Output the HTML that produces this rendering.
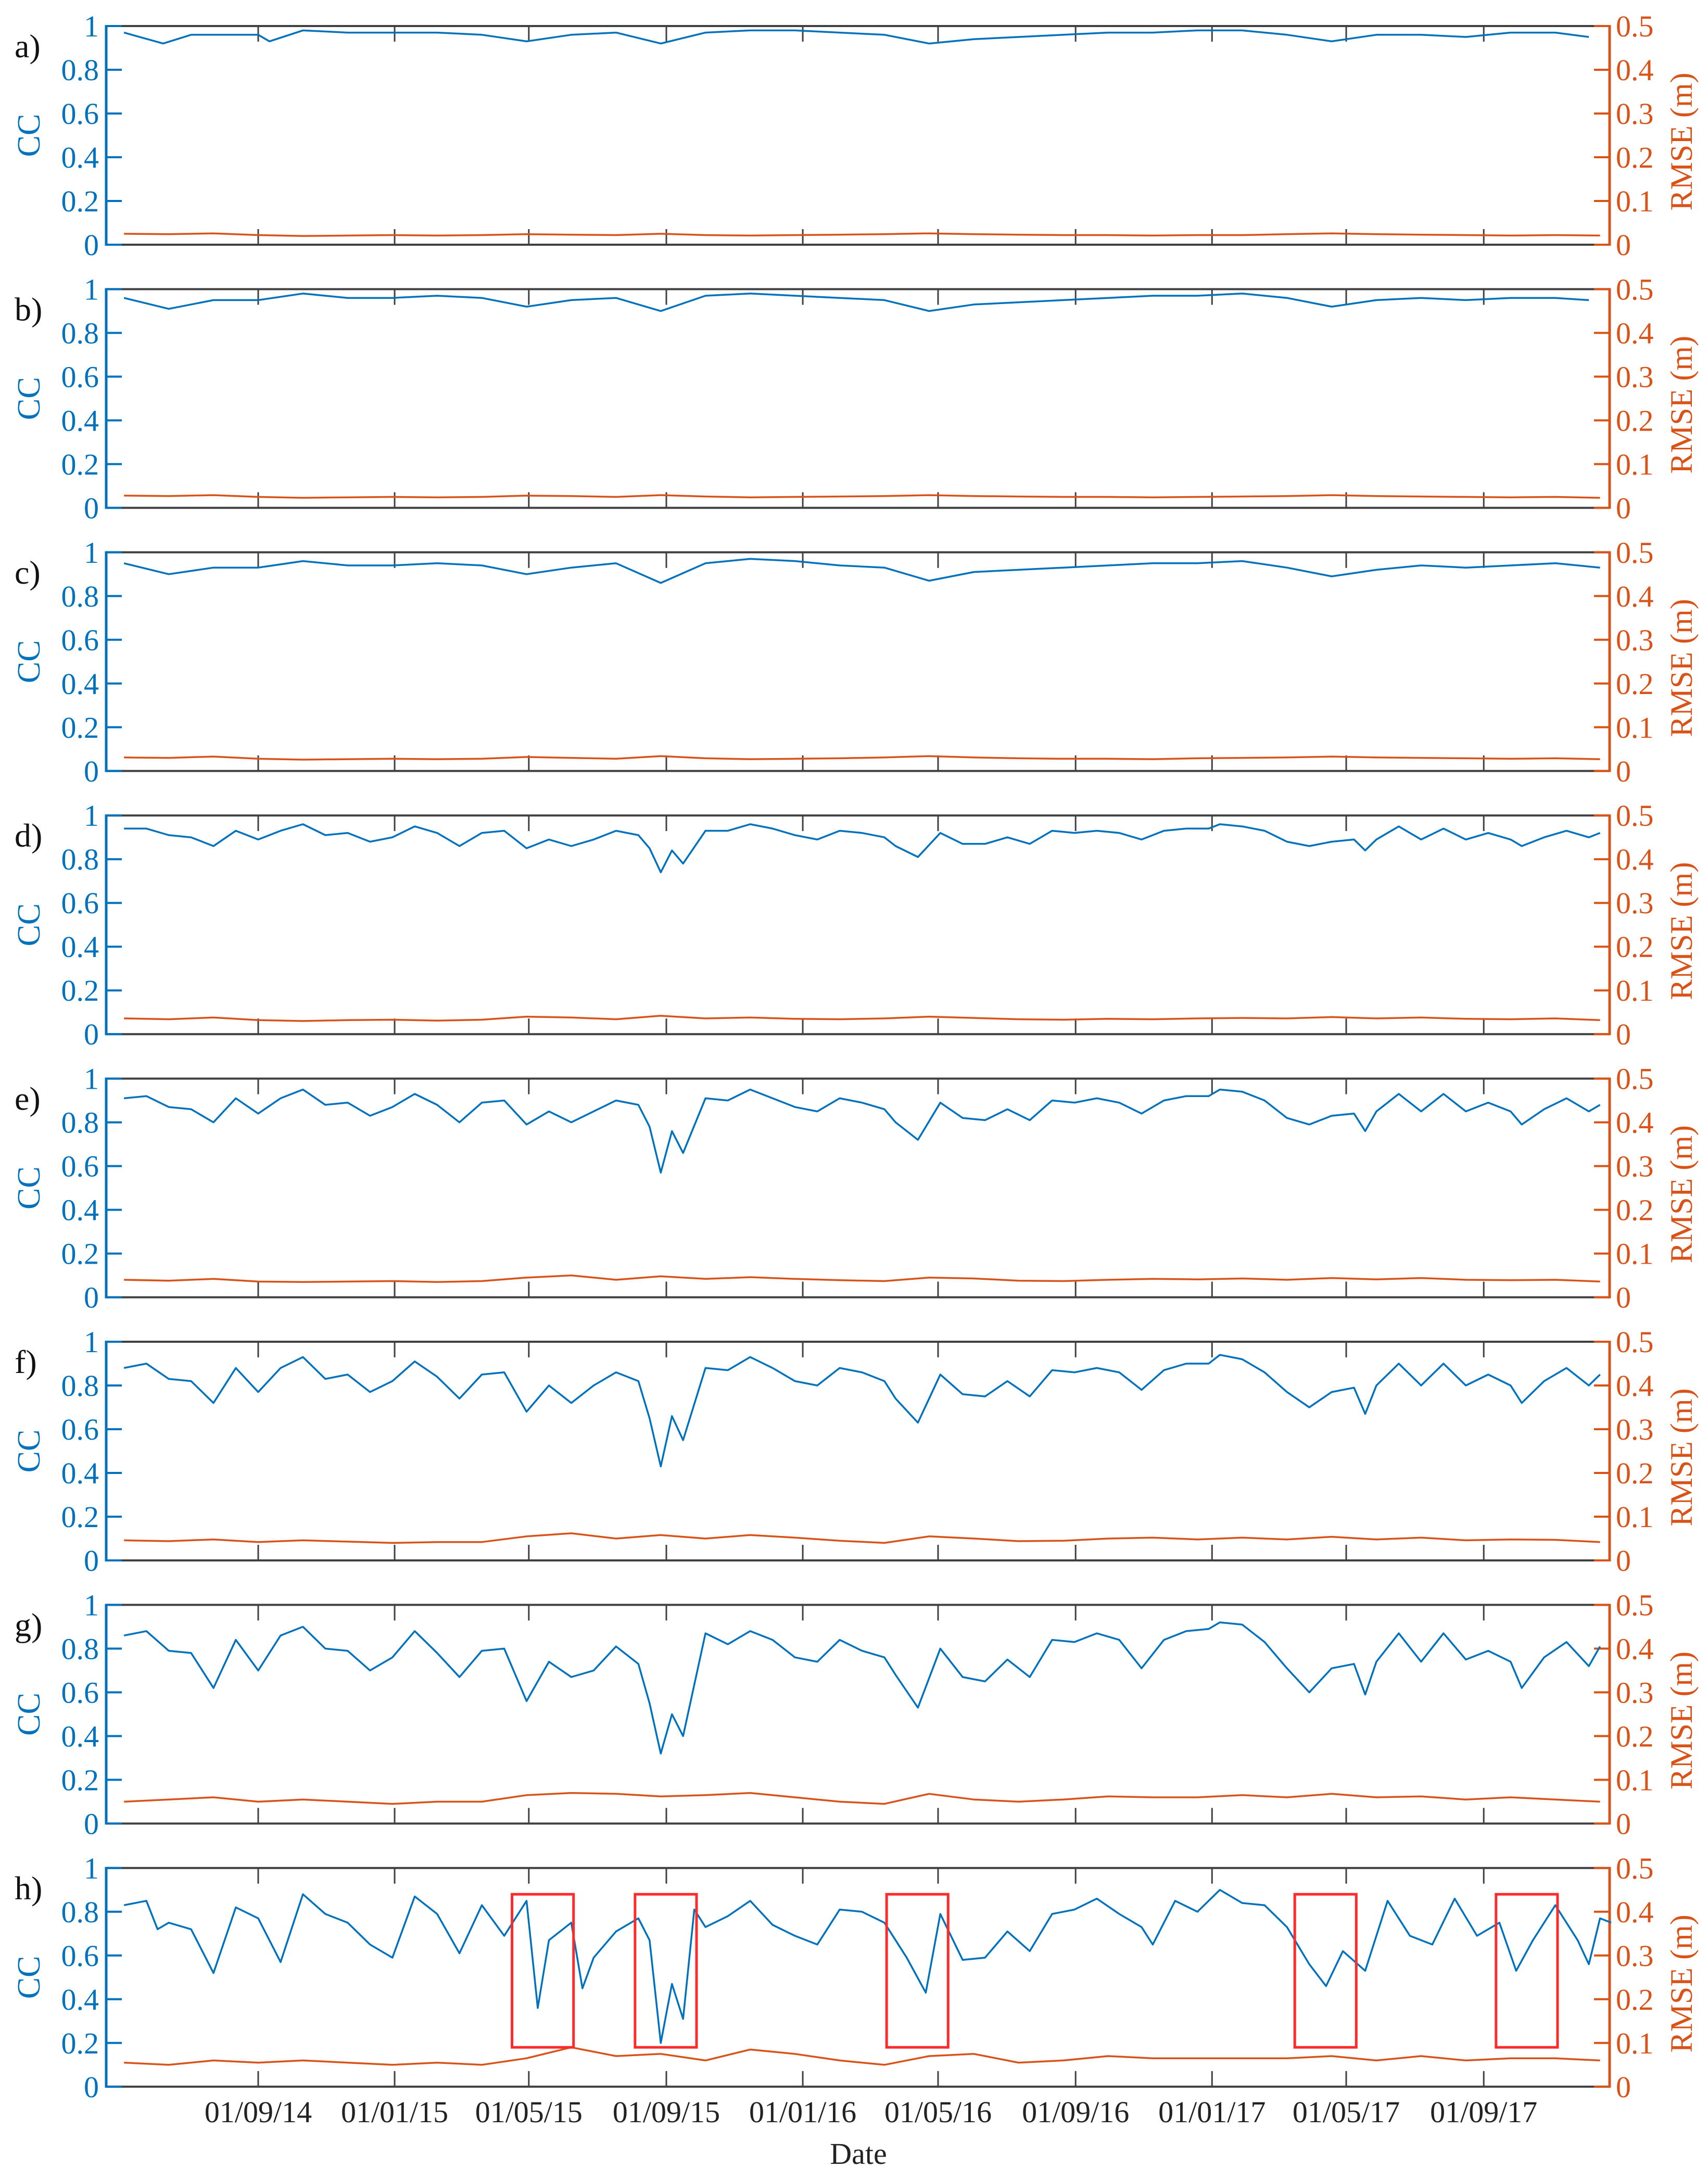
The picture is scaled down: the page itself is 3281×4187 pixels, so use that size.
<!DOCTYPE html>
<html>
<head>
<meta charset="utf-8">
<style>
  html, body { margin: 0; padding: 0; background: #ffffff; }
  svg { display: block; }
  text { font-family: "Liberation Serif", "DejaVu Serif", serif; }
</style>
</head>
<body>
<svg id="chart" xmlns="http://www.w3.org/2000/svg" width="3281" height="4187" viewBox="0 0 3281 4187">
  <rect x="0" y="0" width="3281" height="4187" fill="#ffffff"></rect>
</svg>
<script>
// ---------- data ----------
const panelLabels = ["a)", "b)", "c)", "d)", "e)", "f)", "g)", "h)"];
const dateTickDays = [0, 122, 242, 365, 487, 608, 731, 853, 973, 1096];
const dateTickLabels = ["01/09/14", "01/01/15", "01/05/15", "01/09/15", "01/01/16", "01/05/16", "01/09/16", "01/01/17", "01/05/17", "01/09/17"];
const ccTickValues = [0, 0.2, 0.4, 0.6, 0.8, 1];
const ccTickLabels = ["0", "0.2", "0.4", "0.6", "0.8", "1"];
const rmseTickValues = [0, 0.1, 0.2, 0.3, 0.4, 0.5];
const rmseTickLabels = ["0", "0.1", "0.2", "0.3", "0.4", "0.5"];

// days since 01/09/14
const aDays = [-120,-85,-60,-20,0,10,40,80,120,160,200,240,280,320,360,400,440,480,520,560,600,640,680,720,760,800,840,880,920,960,1000,1040,1080,1120,1160,1190];
const aCC = [0.97,0.92,0.96,0.96,0.96,0.93,0.98,0.97,0.97,0.97,0.96,0.93,0.96,0.97,0.92,0.97,0.98,0.98,0.97,0.96,0.92,0.94,0.95,0.96,0.97,0.97,0.98,0.98,0.96,0.93,0.96,0.96,0.95,0.97,0.97,0.95];
const bDays = [-120,-80,-40,0,40,80,120,160,200,240,280,320,360,400,440,480,520,560,600,640,680,720,760,800,840,880,920,960,1000,1040,1080,1120,1160,1190];
const bCC = [0.96,0.91,0.95,0.95,0.98,0.96,0.96,0.97,0.96,0.92,0.95,0.96,0.90,0.97,0.98,0.97,0.96,0.95,0.90,0.93,0.94,0.95,0.96,0.97,0.97,0.98,0.96,0.92,0.95,0.96,0.95,0.96,0.96,0.95];
const cDays = [-120,-80,-40,0,40,80,120,160,200,240,280,320,360,400,440,480,520,560,600,640,680,720,760,800,840,880,920,960,1000,1040,1080,1120,1160,1200];
const cCC = [0.95,0.90,0.93,0.93,0.96,0.94,0.94,0.95,0.94,0.90,0.93,0.95,0.86,0.95,0.97,0.96,0.94,0.93,0.87,0.91,0.92,0.93,0.94,0.95,0.95,0.96,0.93,0.89,0.92,0.94,0.93,0.94,0.95,0.93];
const dgDays = [-120,-100,-80,-60,-40,-20,0,20,40,60,80,100,120,140,160,180,200,220,240,260,280,300,320,340,350,360,370,380,400,420,440,460,480,500,520,540,560,570,590,610,630,650,670,690,710,730,750,770,790,810,830,850,860,880,900,920,940,960,980,990,1000,1020,1040,1060,1080,1100,1120,1130,1150,1170,1190,1200];
const dCC = [0.94,0.94,0.91,0.90,0.86,0.93,0.89,0.93,0.96,0.91,0.92,0.88,0.90,0.95,0.92,0.86,0.92,0.93,0.85,0.89,0.86,0.89,0.93,0.91,0.85,0.74,0.84,0.78,0.93,0.93,0.96,0.94,0.91,0.89,0.93,0.92,0.90,0.86,0.81,0.92,0.87,0.87,0.90,0.87,0.93,0.92,0.93,0.92,0.89,0.93,0.94,0.94,0.96,0.95,0.93,0.88,0.86,0.88,0.89,0.84,0.89,0.95,0.89,0.94,0.89,0.92,0.89,0.86,0.90,0.93,0.90,0.92];
const eCC = [0.91,0.92,0.87,0.86,0.80,0.91,0.84,0.91,0.95,0.88,0.89,0.83,0.87,0.93,0.88,0.80,0.89,0.90,0.79,0.85,0.80,0.85,0.90,0.88,0.78,0.57,0.76,0.66,0.91,0.90,0.95,0.91,0.87,0.85,0.91,0.89,0.86,0.80,0.72,0.89,0.82,0.81,0.86,0.81,0.90,0.89,0.91,0.89,0.84,0.90,0.92,0.92,0.95,0.94,0.90,0.82,0.79,0.83,0.84,0.76,0.85,0.93,0.85,0.93,0.85,0.89,0.85,0.79,0.86,0.91,0.85,0.88];
const fCC = [0.88,0.90,0.83,0.82,0.72,0.88,0.77,0.88,0.93,0.83,0.85,0.77,0.82,0.91,0.84,0.74,0.85,0.86,0.68,0.80,0.72,0.80,0.86,0.82,0.65,0.43,0.66,0.55,0.88,0.87,0.93,0.88,0.82,0.80,0.88,0.86,0.82,0.74,0.63,0.85,0.76,0.75,0.82,0.75,0.87,0.86,0.88,0.86,0.78,0.87,0.90,0.90,0.94,0.92,0.86,0.77,0.70,0.77,0.79,0.67,0.80,0.90,0.80,0.90,0.80,0.85,0.80,0.72,0.82,0.88,0.80,0.85];
const gCC = [0.86,0.88,0.79,0.78,0.62,0.84,0.70,0.86,0.90,0.80,0.79,0.70,0.76,0.88,0.78,0.67,0.79,0.80,0.56,0.74,0.67,0.70,0.81,0.73,0.55,0.32,0.50,0.40,0.87,0.82,0.88,0.84,0.76,0.74,0.84,0.79,0.76,0.68,0.53,0.80,0.67,0.65,0.75,0.67,0.84,0.83,0.87,0.84,0.71,0.84,0.88,0.89,0.92,0.91,0.83,0.71,0.60,0.71,0.73,0.59,0.74,0.87,0.74,0.87,0.75,0.79,0.74,0.62,0.76,0.83,0.72,0.81];
const hDays = [-120,-100,-90,-80,-60,-40,-20,0,20,40,60,80,100,120,140,160,180,200,220,240,250,260,280,290,300,320,340,350,360,370,380,390,400,420,440,460,480,500,520,540,560,580,597,610,630,650,670,690,710,730,750,770,790,800,820,840,860,880,900,920,940,955,970,990,1010,1030,1050,1070,1090,1110,1125,1140,1160,1180,1190,1200,1210];
const hCC = [0.83,0.85,0.72,0.75,0.72,0.52,0.82,0.77,0.57,0.88,0.79,0.75,0.65,0.59,0.87,0.79,0.61,0.83,0.69,0.85,0.36,0.67,0.75,0.45,0.59,0.71,0.77,0.67,0.20,0.47,0.31,0.81,0.73,0.78,0.85,0.74,0.69,0.65,0.81,0.80,0.75,0.59,0.43,0.79,0.58,0.59,0.71,0.62,0.79,0.81,0.86,0.79,0.73,0.65,0.85,0.80,0.90,0.84,0.83,0.73,0.56,0.46,0.62,0.53,0.85,0.69,0.65,0.86,0.69,0.75,0.53,0.67,0.83,0.67,0.56,0.77,0.75];

const rDays = [-120,-80,-40,0,40,80,120,160,200,240,280,320,360,400,440,480,520,560,600,640,680,720,760,800,840,880,920,960,1000,1040,1080,1120,1160,1200];
const aRMSE = [0.025,0.024,0.026,0.022,0.020,0.021,0.022,0.021,0.022,0.024,0.023,0.022,0.025,0.022,0.021,0.022,0.023,0.024,0.026,0.024,0.023,0.022,0.022,0.021,0.022,0.022,0.024,0.026,0.024,0.023,0.022,0.021,0.022,0.021];
const bRMSE = [0.028,0.027,0.029,0.025,0.023,0.024,0.025,0.024,0.025,0.028,0.027,0.025,0.029,0.026,0.024,0.025,0.026,0.027,0.029,0.027,0.026,0.025,0.025,0.024,0.025,0.026,0.027,0.029,0.027,0.026,0.025,0.024,0.025,0.023];
const cRMSE = [0.031,0.030,0.033,0.028,0.026,0.027,0.028,0.027,0.028,0.032,0.030,0.028,0.034,0.029,0.027,0.028,0.029,0.031,0.034,0.031,0.029,0.028,0.028,0.027,0.029,0.030,0.031,0.033,0.031,0.030,0.029,0.028,0.029,0.027];
const dRMSE = [0.036,0.034,0.038,0.032,0.030,0.032,0.033,0.031,0.033,0.040,0.038,0.034,0.042,0.036,0.038,0.035,0.034,0.036,0.040,0.037,0.034,0.033,0.035,0.034,0.036,0.037,0.036,0.039,0.036,0.038,0.035,0.034,0.036,0.032];
const eRMSE = [0.040,0.038,0.042,0.036,0.035,0.036,0.037,0.035,0.037,0.045,0.050,0.040,0.048,0.042,0.046,0.042,0.039,0.037,0.045,0.043,0.038,0.037,0.040,0.042,0.041,0.043,0.040,0.044,0.041,0.044,0.040,0.039,0.040,0.036];
const fRMSE = [0.046,0.044,0.048,0.042,0.046,0.043,0.040,0.042,0.042,0.055,0.062,0.050,0.058,0.050,0.058,0.052,0.045,0.040,0.055,0.050,0.044,0.045,0.050,0.052,0.048,0.052,0.048,0.054,0.048,0.052,0.046,0.048,0.047,0.042];
const gRMSE = [0.050,0.055,0.060,0.050,0.055,0.050,0.045,0.050,0.050,0.065,0.070,0.068,0.062,0.065,0.070,0.060,0.050,0.045,0.068,0.055,0.050,0.055,0.062,0.060,0.060,0.065,0.060,0.068,0.060,0.062,0.055,0.060,0.055,0.050];
const hRMSE = [0.055,0.050,0.060,0.055,0.060,0.055,0.050,0.055,0.050,0.065,0.090,0.070,0.075,0.060,0.085,0.075,0.060,0.050,0.070,0.075,0.055,0.060,0.070,0.065,0.065,0.065,0.065,0.070,0.060,0.070,0.060,0.065,0.065,0.060];

const panelCCDays = [aDays, bDays, cDays, dgDays, dgDays, dgDays, dgDays, hDays];
const panelCC = [aCC, bCC, cCC, dCC, eCC, fCC, gCC, hCC];
const panelRMSE = [aRMSE, bRMSE, cRMSE, dRMSE, eRMSE, fRMSE, gRMSE, hRMSE];

// highlight boxes in panel h: start day, end day, CC low, CC high
const boxStartDays = [227, 337, 562, 927, 1107];
const boxEndDays = [282, 392, 617, 982, 1162];
const boxLow = [0.18, 0.18, 0.18, 0.18, 0.18];
const boxHigh = [0.88, 0.88, 0.88, 0.88, 0.88];

// ---------- layout ----------
const NS = "http://www.w3.org/2000/svg";
const svg = document.getElementById("chart");
const X0 = 204, X1 = 3092, PH = 420, PITCH = 505.4, TOP0 = 50;
const BLUE = "#0072BD", ORANGE = "#D95319", FRAME = "#404040";

function xScale(d) { return 496 + 2.148 * d; }
function yCC(top, v) { return top + PH * (1 - v); }
function yRMSE(top, v) { return top + PH * (1 - v / 0.5); }

function mk(tag, attrs, parent) {
  const el = document.createElementNS(NS, tag);
  for (const k in attrs) el.setAttribute(k, attrs[k]);
  (parent || svg).appendChild(el);
  return el;
}

for (let p = 0; p < 8; p++) {
  const top = TOP0 + p * PITCH;
  const bot = top + PH;
  const g = mk("g", {});
  
  

  // frame top/bottom
  const ft = mk("line", { x1: X0, y1: top, x2: X1, y2: top, stroke: FRAME, "stroke-width": 4 }, g);
  
  
  const fb = mk("line", { x1: X0, y1: bot, x2: X1, y2: bot, stroke: FRAME, "stroke-width": 4 }, g);
  
  

  // date ticks
  for (let i = 0; i < dateTickDays.length; i++) {
    const x = xScale(dateTickDays[i]);
    const t1 = mk("line", { x1: x, y1: top, x2: x, y2: top + 30, stroke: FRAME, "stroke-width": 3 }, g);
    
    
    const t2 = mk("line", { x1: x, y1: bot, x2: x, y2: bot - 30, stroke: FRAME, "stroke-width": 3 }, g);
    
    
  }

  // left axis
  const la = mk("line", { x1: X0, y1: top - 2, x2: X0, y2: bot + 2, stroke: BLUE, "stroke-width": 5 }, g);
  
  
  for (let i = 0; i < ccTickValues.length; i++) {
    const y = yCC(top, ccTickValues[i]);
    const tk = mk("line", { x1: X0, y1: y, x2: X0 + 30, y2: y, stroke: BLUE, "stroke-width": 4 }, g);
    
    
    const tl = mk("text", { x: 190, y: y + 20, "text-anchor": "end", "font-size": 58, fill: BLUE }, g);
    tl.textContent = ccTickLabels[i];
    
    
  }
  const cl = mk("text", { x: 0, y: 0, "text-anchor": "middle", "font-size": 62, fill: BLUE, transform: "translate(76," + (top + 210) + ") rotate(-90)" }, g);
  cl.textContent = "CC";
  
  

  // right axis
  const ra = mk("line", { x1: X1, y1: top - 2, x2: X1, y2: bot + 2, stroke: ORANGE, "stroke-width": 5 }, g);
  
  
  for (let i = 0; i < rmseTickValues.length; i++) {
    const y = yRMSE(top, rmseTickValues[i]);
    const tk = mk("line", { x1: X1, y1: y, x2: X1 - 30, y2: y, stroke: ORANGE, "stroke-width": 4 }, g);
    
    
    const tl = mk("text", { x: 3104, y: y + 20, "text-anchor": "start", "font-size": 58, fill: ORANGE }, g);
    tl.textContent = rmseTickLabels[i];
    
    
  }
  const rl = mk("text", { x: 0, y: 0, "text-anchor": "middle", "font-size": 60, fill: ORANGE, transform: "translate(3250," + (top + 222) + ") rotate(-90)" }, g);
  rl.textContent = "RMSE (m)";
  
  

  // panel label
  const pl = mk("text", { x: 28, y: top + 60, "font-size": 64, fill: "#111" }, g);
  pl.textContent = panelLabels[p];
  
  

  // CC series
  const days = panelCCDays[p], cc = panelCC[p];
  let dStr = "";
  for (let i = 0; i < cc.length; i++) dStr += (i ? "L" : "M") + xScale(days[i]).toFixed(1) + "," + yCC(top, cc[i]).toFixed(1);
  const cp = mk("path", { d: dStr, fill: "none", stroke: BLUE, "stroke-width": 3.5, "stroke-linejoin": "round" }, g);
  
  

  // RMSE series
  const rm = panelRMSE[p];
  let rStr = "";
  for (let i = 0; i < rm.length; i++) rStr += (i ? "L" : "M") + xScale(rDays[i]).toFixed(1) + "," + yRMSE(top, rm[i]).toFixed(1);
  const rp = mk("path", { d: rStr, fill: "none", stroke: ORANGE, "stroke-width": 3.5, "stroke-linejoin": "round" }, g);
  
  

  // highlight boxes in last panel
  if (p === 7) {
    for (let i = 0; i < boxStartDays.length; i++) {
      const x1 = xScale(boxStartDays[i]), x2 = xScale(boxEndDays[i]);
      const y1 = yCC(top, boxHigh[i]), y2 = yCC(top, boxLow[i]);
      const bx = mk("rect", { x: x1, y: y1, width: x2 - x1, height: y2 - y1, fill: "none", stroke: "#ff2a2a", "stroke-width": 5 }, g);
      
      
    }
    // date tick labels
    for (let i = 0; i < dateTickDays.length; i++) {
      const xl = mk("text", { x: xScale(dateTickDays[i]), y: bot + 68, "text-anchor": "middle", "font-size": 58, fill: "#222" }, g);
      xl.textContent = dateTickLabels[i];
      
      
    }
    const dl = mk("text", { x: 1649, y: bot + 148, "text-anchor": "middle", "font-size": 58, fill: "#222" }, g);
    dl.textContent = "Date";
    
    
  }
}
</script>
</body>
</html>
